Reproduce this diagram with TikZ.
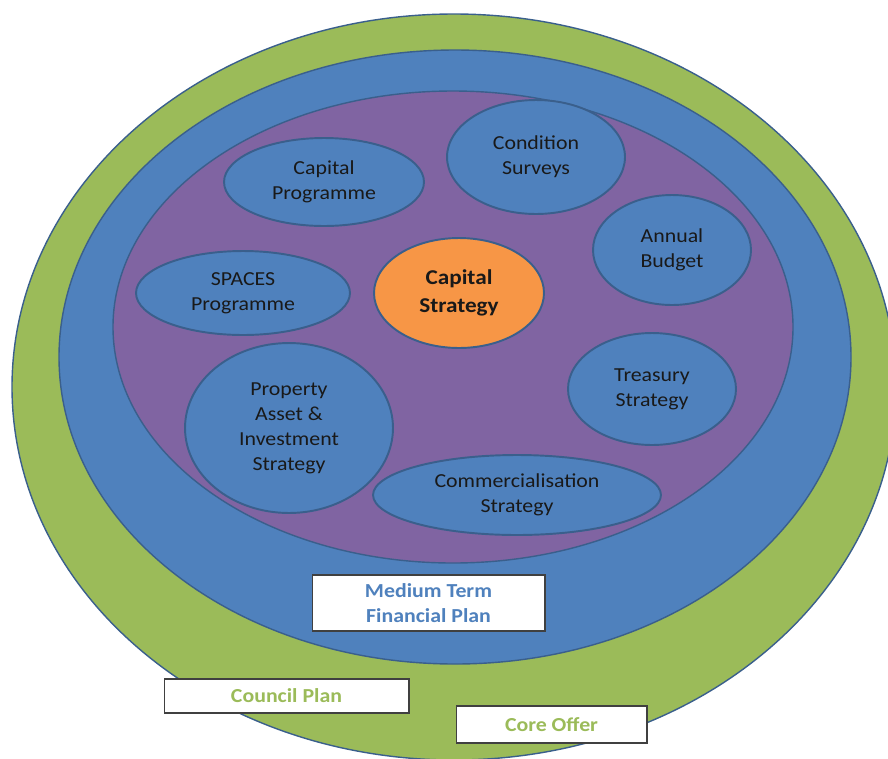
\documentclass[tikz,border=0pt]{standalone}
\usepackage{fontspec}
\setmainfont{Carlito}[FakeStretch=1.1]
\usepackage{tikz}
\usetikzlibrary{shapes.geometric}
\definecolor{ringgreen}{HTML}{9BBB59}
\definecolor{ringblue}{HTML}{4F81BD}
\definecolor{ringpurple}{HTML}{8064A2}
\definecolor{coreorange}{HTML}{F79646}
\definecolor{edgeblue}{HTML}{3A5F8C}

\tikzset{
  part/.style={ellipse, draw=edgeblue, line width=1.1pt, fill=ringblue, inner sep=0pt,
    align=center, text=black!90, font=\fontsize{11.3}{14.2}\selectfont},
  hub/.style={part, fill=coreorange, font=\fontsize{12}{15.8}\selectfont\bfseries},
  tag/.style={rectangle, draw=black!75, line width=0.6pt, fill=white, inner sep=0pt,
    align=center, font=\fontsize{11.3}{14.2}\selectfont\bfseries}
}

\begin{document}
\begin{tikzpicture}[x=0.02cm, y=-0.02cm]

\useasboundingbox (0,0) rectangle (888,758);
\clip (0,0) rectangle (888,758);

% rings
\draw[edgeblue, line width=0.8pt, fill=ringgreen] (454,387) ellipse (442 and 373);
\draw[edgeblue, line width=0.8pt, fill=ringblue] (455,357) ellipse (396 and 307);
\draw[edgeblue, line width=0.8pt, fill=ringpurple] (453,327) ellipse (340 and 236);

% inner strategies
\node[part, minimum width=4cm, minimum height=1.76cm] (cprog) at (324,182) {Capital\\Programme};
\node[part, minimum width=3.56cm, minimum height=2.28cm] (cond) at (536,157) {Condition\\Surveys};
\node[part, minimum width=3.16cm, minimum height=2.2cm] (annual) at (672,250) {Annual\\Budget};
\node[part, minimum width=4.28cm, minimum height=1.68cm] (spaces) at (243,293) {SPACES\\Programme};
\node[hub, minimum width=3.4cm, minimum height=2.2cm] (cstrat) at (459,293) {Capital\\Strategy};
\node[part, minimum width=3.36cm, minimum height=2.24cm] (treas) at (652,389) {Treasury\\Strategy};
\node[part, minimum width=4.16cm, minimum height=3.4cm] (prop) at (289,428) {Property\\Asset \&\\Investment\\Strategy};
\node[part, minimum width=5.76cm, minimum height=1.6cm] (comm) at (517,495) {Commercialisation\\Strategy};

% labels of the rings
\node[tag, text=ringblue, minimum width=4.66cm, minimum height=1.12cm] (mtfp) at (428.5,603) {Medium Term\\Financial Plan};
\node[tag, text=ringgreen, minimum width=4.9cm, minimum height=0.68cm] (cplan) at (286.5,696) {Council Plan};
\node[tag, text=ringgreen, minimum width=3.82cm, minimum height=0.74cm] (coffer) at (551.5,724.5) {Core Offer};

\end{tikzpicture}
\end{document}
